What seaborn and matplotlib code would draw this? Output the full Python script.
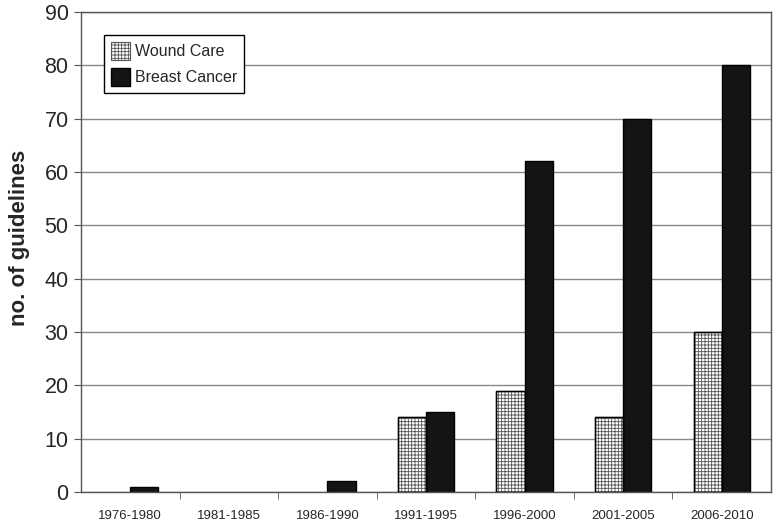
import matplotlib
matplotlib.use("Agg")
import matplotlib.pyplot as plt
import seaborn as sns
import pandas as pd
from matplotlib.patches import Patch

periods = ["1976-1980", "1981-1985", "1986-1990", "1991-1995", "1996-2000", "2001-2005", "2006-2010"]
wound_care = [0, 0, 0, 14, 19, 14, 30]
breast_cancer = [1, 0, 2, 15, 62, 70, 80]
series_names = ["Wound Care", "Breast Cancer"]

df = pd.DataFrame({
    "period": periods * 2,
    "value": wound_care + breast_cancer,
    "series": [series_names[0]] * len(periods) + [series_names[1]] * len(periods),
})

sns.set_style("white")
plt.rcParams["font.family"] = ["Liberation Sans", "DejaVu Sans"]
plt.rcParams["hatch.linewidth"] = 0.6
plt.rcParams["hatch.color"] = "#555555"

fig = plt.figure(figsize=(7.75, 5.21), dpi=100)
ax = fig.add_axes([81 / 775, 1 - 492 / 521, 690 / 775, 480 / 521])

sns.barplot(data=df, x="period", y="value", hue="series", order=periods,
            hue_order=series_names, palette=["white", "#141414"], width=0.57,
            edgecolor="black", linewidth=1.0, ax=ax, legend=False, saturation=1)

n = len(periods)
for i, p in enumerate(ax.patches[: n]):
    p.set_hatch("+++++")
    p.set_edgecolor("#555555")
    p.set_facecolor("white")
    if p.get_height() > 0:
        ax.add_patch(plt.Rectangle((p.get_x(), p.get_y()), p.get_width(), p.get_height(),
                                   fill=False, edgecolor="black", linewidth=1.0, zorder=3))
    else:
        p.set_visible(False)
for p in ax.patches[n: 2 * n]:
    if p.get_height() == 0:
        p.set_visible(False)

ax.set_ylim(0, 90)
ax.set_xlim(-0.5, n - 0.5)
ax.set_yticks(range(0, 91, 10))
ax.yaxis.grid(True, color="#888888", linewidth=1.0)
ax.set_axisbelow(True)
for s in ax.spines.values():
    s.set_visible(True)
    s.set_color("#555555")
    s.set_linewidth(1.0)

ax.set_xticks([i - 0.5 for i in range(1, n)], minor=True)
ax.tick_params(axis="x", which="major", length=0, labelsize=9.5, pad=13)
ax.tick_params(axis="x", which="minor", length=5, direction="out", color="#555555", bottom=True)
ax.tick_params(axis="y", length=5, direction="out", color="#555555", labelsize=15.5, left=True, pad=4)
ax.set_xlabel("")
ax.set_ylabel("no. of guidelines", fontsize=16, fontweight="bold", labelpad=10)
ax.yaxis.set_label_coords(-0.074, 0.53)

handles = [Patch(facecolor="white", edgecolor="#555555", hatch="+++++", linewidth=0.8),
           Patch(facecolor="#141414", edgecolor="black")]
leg = ax.legend(handles, series_names, loc="upper left", bbox_to_anchor=(0.033, 0.952),
                frameon=True, fancybox=False, edgecolor="black", fontsize=11.5,
                handlelength=1.2, handleheight=1.3, handletextpad=0.3, borderpad=0.45,
                labelspacing=0.55, borderaxespad=0)
leg.get_frame().set_linewidth(1.0)
leg.get_frame().set_alpha(1)

fig.savefig("out.png", dpi=100)
